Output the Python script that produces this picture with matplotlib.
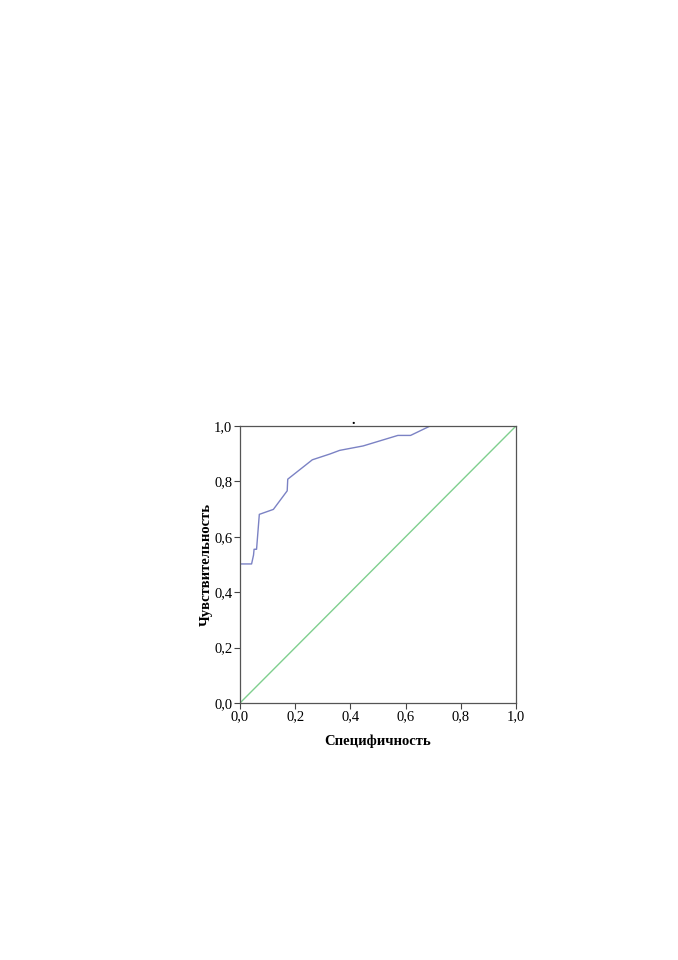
import matplotlib
matplotlib.use("Agg")
import matplotlib.pyplot as plt
import numpy as np

# ROC curve points (1 - specificity, sensitivity)
fpr = [0.0, 0.042, 0.049, 0.051, 0.058, 0.060, 0.070, 0.121, 0.171, 0.173,
       0.262, 0.326, 0.361, 0.446, 0.572, 0.618, 0.689, 1.0]
tpr = [0.502, 0.502, 0.534, 0.555, 0.555, 0.555, 0.681, 0.699, 0.766, 0.808,
       0.878, 0.899, 0.912, 0.928, 0.966, 0.966, 1.0, 1.0]
ref = [0.0, 1.0]
ticks = [0.0, 0.2, 0.4, 0.6, 0.8, 1.0]
tick_labels = ["0,0", "0,2", "0,4", "0,6", "0,8", "1,0"]

plt.rcParams['font.family'] = ['Liberation Serif', 'DejaVu Serif']

fig = plt.figure(figsize=(6.78, 9.6), dpi=100)
ax = fig.add_axes([240/678, 1-703/960, 276/678, 277/960])

ax.plot(fpr, tpr, c='#7b82c4', lw=1.0)
ax.plot(ref, ref, c='#7fcf8e', lw=1.0)

ax.set_xlim(0, 1)
ax.set_ylim(0, 1)
ax.set_xticks(ticks)
ax.set_xticklabels(tick_labels, fontsize=10.5)
ax.set_yticks(ticks)
ax.set_yticklabels(tick_labels, fontsize=10.5)
ax.tick_params(length=4, width=0.8, color='#444444', pad=1.5)
for s in ax.spines.values():
    s.set_color('#555555')
    s.set_linewidth(0.9)

ax.set_xlabel("Специфичность", fontsize=10.5, fontweight='bold', labelpad=8)
ax.set_ylabel("Чувствительность", fontsize=10.5, fontweight='bold', labelpad=1)

# stray dot above the plot frame
ax.text(0.41, 0.995, ".", fontsize=10, fontweight='bold', ha='center', va='bottom')

fig.savefig("out.png", dpi=100)
